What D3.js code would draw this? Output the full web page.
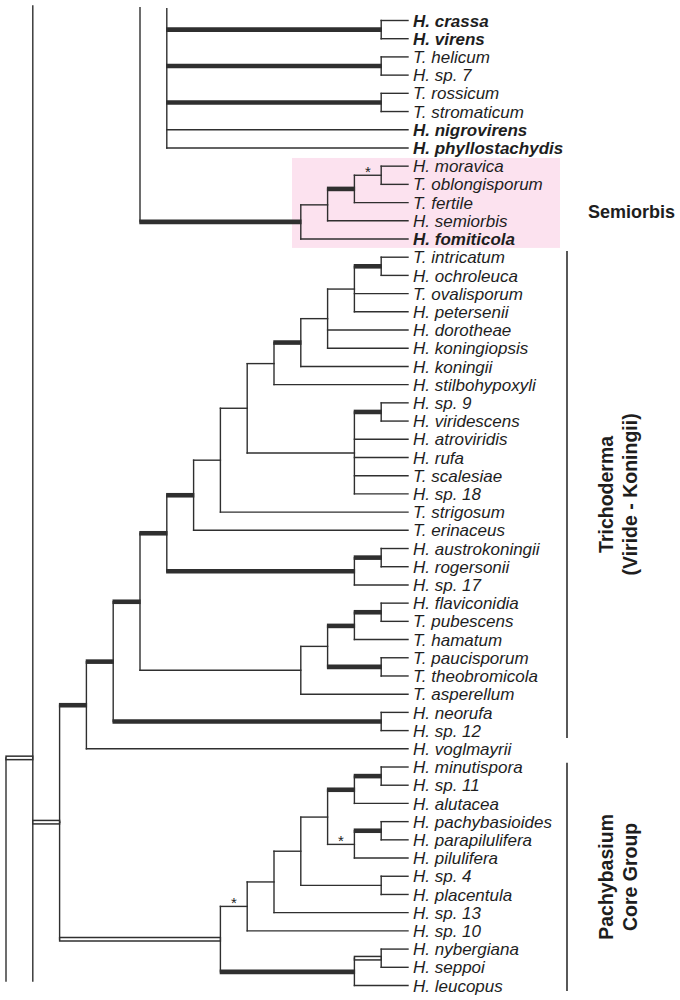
<!DOCTYPE html>
<html><head><meta charset="utf-8">
<script src="https://cdn.jsdelivr.net/npm/d3@7"></script>
<style>body{margin:0;background:#fff}</style>
</head><body><svg id="c" width="680" height="1000"></svg>
<script>
// ---------------- DATA ----------------
const taxa = [
  "H. crassa","H. virens","T. helicum","H. sp. 7","T. rossicum","T. stromaticum",
  "H. nigrovirens","H. phyllostachydis","H. moravica","T. oblongisporum","T. fertile",
  "H. semiorbis","H. fomiticola","T. intricatum","H. ochroleuca","T. ovalisporum",
  "H. petersenii","H. dorotheae","H. koningiopsis","H. koningii","H. stilbohypoxyli",
  "H. sp. 9","H. viridescens","H. atroviridis","H. rufa","T. scalesiae","H. sp. 18",
  "T. strigosum","T. erinaceus","H. austrokoningii","H. rogersonii","H. sp. 17",
  "H. flaviconidia","T. pubescens","T. hamatum","T. paucisporum","T. theobromicola",
  "T. asperellum","H. neorufa","H. sp. 12","H. voglmayrii","H. minutispora","H. sp. 11",
  "H. alutacea","H. pachybasioides","H. parapilulifera","H. pilulifera","H. sp. 4",
  "H. placentula","H. sp. 13","H. sp. 10","H. nybergiana","H. seppoi","H. leucopus"
];
const boldTaxa = ["H. crassa","H. virens","H. nigrovirens","H. phyllostachydis","H. fomiticola"];

// Topology (Newick, leaves = taxon index). Branch suffix: T = thick, D = double, * = asterisk
const cladeVirens     = "((0,1)T,(2,3)T,(4,5)T,6,7)";
const cladeSemiorbis  = "(((((8,9)*,10)T,11),12)T)";
const cladeKoningii   = "(((((13,14)T,15,16),17,18),19)T,20)";
const cladeViride     = "((21,22)T,23,24,25,26)";
const cladeAustro     = "((29,30)T,31)";
const cladeHamatum    = "((((32,33)T,34)T,(35,36)T),37)";
const cladeNeorufa    = "(38,39)";
const cladePachy      = "(((((((41,42)T,43)T,((44,45)T,46)*),(47,48)),49),50)*,((51,52)D,53)T)";
const cladeTrichoderma = `((((((((${cladeKoningii},${cladeViride}),27),28)T,${cladeAustro}T)T,${cladeHamatum})T,${cladeNeorufa}T)T,40)`;
const cladeMain       = `(${cladeTrichoderma}T,${cladePachy}D)`;

// clade roots: depth level of root, top stub (leaf-index units) for lines that leave the picture
const cladeRoots = [
  {newick: cladeVirens,    level: 6, stubTop: -0.65},
  {newick: cladeSemiorbis, level: 5, stubTop: -0.7},
  {newick: cladeMain,      level: 2, parentLevel: 1}
];
// backbone lines that continue beyond the picture (level, from index, to index)
const spine = [
  {level: 1, from: -0.8, to: 52.75},
  {level: 0, from: 40.5, to: 52.75}
];
const spineLink = {fromLevel: 0, toLevel: 1, at: 40.5};

const groups = [
  {lines: ["Trichoderma", "(Viride - Koningii)"], from: 12.66, to: 39.4},
  {lines: ["Pachybasium", "Core Group"], from: 40.77, to: 53.3}
];
const highlight = {label: "Semiorbis", from: 7.55, to: 12.49};

// ---------------- LAYOUT ----------------
const svg = d3.select("#c");
const y = d3.scaleLinear().domain([0, taxa.length - 1]).range([20.5, 985.5]);
const x = d3.scaleLinear().domain([0, 15]).range([6, 408]);
const ink = "#2f2f2f";

function parseNewick(s) {
  let i = 0;
  function node() {
    let n;
    if (s[i] === "(") {
      i++; n = {children: [node()]};
      while (s[i] === ",") { i++; n.children.push(node()); }
      i++;
    } else {
      const j = i; while (/[0-9]/.test(s[i])) i++;
      n = {leaf: +s.slice(j, i)};
    }
    n.thick = false; n.dbl = false; n.star = false;
    while (i < s.length && /[TD*]/.test(s[i])) {
      if (s[i] === "T") n.thick = true; else if (s[i] === "D") n.dbl = true; else n.star = true;
      i++;
    }
    return n;
  }
  return node();
}

const thin = [], thick = [], dbl = [], stars = [];
cladeRoots.forEach(c => {
  const h = d3.hierarchy(parseNewick(c.newick));
  h.eachAfter(n => {
    n.py = n.children ? (n.children[0].py + n.children[n.children.length - 1].py) / 2 : y(n.data.leaf);
    n.px = x(15 - n.height);
  });
  h.px = x(c.level);
  h.each(n => {
    if (n.children) {
      const top = (n === h && c.stubTop !== undefined) ? y(c.stubTop) : n.children[0].py;
      thin.push({x1: n.px, y1: top, x2: n.px, y2: n.children[n.children.length - 1].py});
    }
    if (n.parent) {
      const seg = {x1: n.parent.px, y1: n.py, x2: n.px, y2: n.py};
      if (n.data.thick) thick.push(seg); else if (n.data.dbl) dbl.push(seg); else thin.push(seg);
      if (n.data.star) stars.push({x: (n.parent.px + n.px) / 2, y: n.py});
    }
  });
  if (c.parentLevel !== undefined) dbl.push({x1: x(c.parentLevel), y1: h.py, x2: h.px, y2: h.py});
});
spine.forEach(s => thin.push({x1: x(s.level), y1: y(s.from), x2: x(s.level), y2: y(s.to)}));
dbl.push({x1: x(spineLink.fromLevel), y1: y(spineLink.at), x2: x(spineLink.toLevel), y2: y(spineLink.at)});

// ---------------- DRAW ----------------
const fontFam = "'Liberation Sans', Arial, Helvetica, sans-serif";
// highlight box
svg.append("rect").attr("x", 292).attr("y", y(highlight.from))
  .attr("width", 560 - 292).attr("height", y(highlight.to) - y(highlight.from))
  .attr("fill", "#fce2ef");

const g = svg.append("g");
g.selectAll("line.thin").data(thin).join("line").attr("class", "thin")
  .attr("x1", d => d.x1).attr("y1", d => d.y1).attr("x2", d => d.x2).attr("y2", d => d.y2)
  .attr("stroke", ink).attr("stroke-width", 1.4).attr("stroke-linecap", "square");
g.selectAll("line.thick").data(thick).join("line").attr("class", "thick")
  .attr("x1", d => d.x1 - 0.7).attr("y1", d => d.y1).attr("x2", d => d.x2 + 0.7).attr("y2", d => d.y2)
  .attr("stroke", ink).attr("stroke-width", 4.6);
g.selectAll("line.dblo").data(dbl).join("line").attr("class", "dblo")
  .attr("x1", d => d.x1 - 0.7).attr("y1", d => d.y1).attr("x2", d => d.x2 + 0.7).attr("y2", d => d.y2)
  .attr("stroke", ink).attr("stroke-width", 5);
g.selectAll("line.dbli").data(dbl).join("line").attr("class", "dbli")
  .attr("x1", d => d.x1 + 0.8).attr("y1", d => d.y1).attr("x2", d => d.x2 - 0.8).attr("y2", d => d.y2)
  .attr("stroke", "#fff").attr("stroke-width", 2);

// asterisks
svg.selectAll("text.star").data(stars).join("text").attr("class", "star")
  .attr("x", d => d.x).attr("y", d => d.y + 2).attr("text-anchor", "middle")
  .attr("font-family", fontFam).attr("font-size", 15).attr("fill", "#222").text("*");

// leaf labels
svg.selectAll("text.leaf").data(taxa).join("text").attr("class", "leaf")
  .attr("x", x(15) + 5).attr("y", (d, i) => y(i)).attr("dy", "0.36em")
  .attr("font-family", fontFam).attr("font-size", 17).attr("font-style", "italic")
  .attr("font-weight", d => boldTaxa.includes(d) ? "bold" : "normal")
  .attr("fill", "#1e1e1e").text(d => d);

// Semiorbis label
svg.append("text").attr("x", 588).attr("y", y(10.5)).attr("dy", "0.36em")
  .attr("font-family", fontFam).attr("font-size", 18).attr("font-weight", "bold")
  .attr("fill", "#1e1e1e").text(highlight.label);

// group bars and rotated labels
groups.forEach(gr => {
  svg.append("line").attr("x1", 567).attr("x2", 567).attr("y1", y(gr.from)).attr("y2", y(gr.to))
    .attr("stroke", ink).attr("stroke-width", 1.6);
  const cy = (y(gr.from) + y(gr.to)) / 2;
  gr.lines.forEach((t, k) => {
    svg.append("text").attr("transform", `translate(${613 + k * 23.5},${cy}) rotate(-90)`)
      .attr("text-anchor", "middle").attr("font-family", fontFam)
      .attr("font-size", 19.5).attr("font-weight", "bold").attr("fill", "#1e1e1e").text(t);
  });
});
</script></body></html>
